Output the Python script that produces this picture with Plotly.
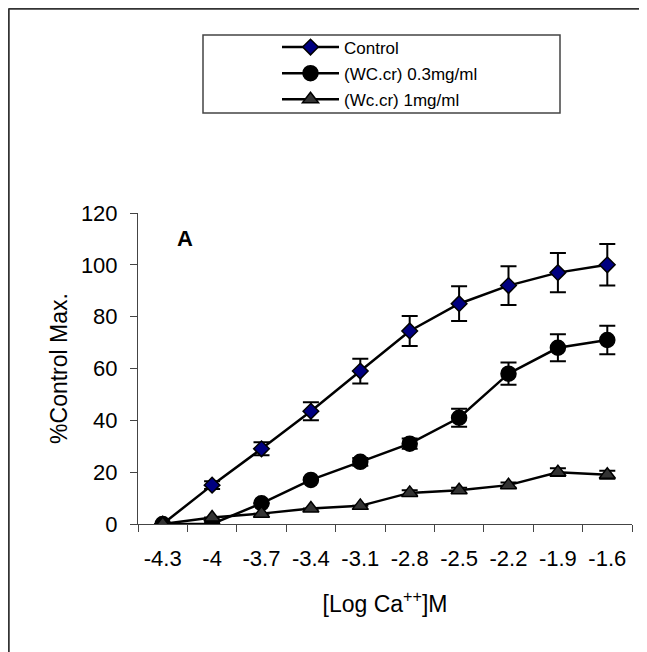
import plotly.graph_objects as go

categories = ["-4.3", "-4", "-3.7", "-3.4", "-3.1", "-2.8", "-2.5", "-2.2", "-1.9", "-1.6"]
control = [0, 15, 29, 43.5, 59, 74.5, 85, 92, 97, 100]
control_err = [0, 1.5, 2.5, 3.5, 4.8, 5.8, 6.7, 7.5, 7.6, 8]
wc03 = [0, 0, 8, 17, 24, 31, 41, 58, 68, 71]
wc03_err = [0, 0, 0, 0, 1.5, 2, 3.5, 4.3, 5.2, 5.5]
wc1 = [0, 2.5, 4, 6, 7, 12, 13, 15, 20, 19]
wc1_err = [0, 0, 0, 0, 0, 1, 1, 1, 1.5, 1.5]
names = ["Control", "(WC.cr) 0.3mg/ml", "(Wc.cr) 1mg/ml"]

FONT = "Liberation Sans, Arial, sans-serif"

fig = go.Figure()

def add(y, err, name, symbol, fill, size, group):
    fig.add_trace(go.Scatter(
        x=categories, y=y, name=name, mode="lines+markers",
        legendgroup=group,
        line=dict(color="black", width=2.5),
        marker=dict(symbol=symbol, color=fill, size=size,
                    line=dict(color="black", width=1.5)),
        error_y=dict(type="data", array=err, visible=True,
                     color="black", thickness=2, width=8),
    ))

add(control, control_err, names[0], "diamond", "#000080", 12, "g1")
add(wc03, wc03_err, names[1], "circle", "black", 15, "g2")
add(wc1, wc1_err, names[2], "triangle-up", "#333333", 14, "g3")

# page body has an 8px margin, so figure px = reference px - 8
OFF = 8
W, H = 639, 644
L, R, T, B = 130, 15, 205, 128
pw = W - L - R
ph = H - T - B

def px(x):
    return (x - OFF - L) / pw

def py(y):
    return (H - B - (y - OFF)) / ph

fig.update_layout(
    width=W, height=H,
    margin=dict(l=L, r=R, t=T, b=B, pad=0),
    paper_bgcolor="white", plot_bgcolor="white",
    font=dict(family=FONT, color="black", size=22),
    showlegend=True,
    legend=dict(
        x=px(277), y=py(29.5), xanchor="left", yanchor="top",
        bgcolor="rgba(0,0,0,0)", borderwidth=0,
        font=dict(size=17, family=FONT),
        traceorder="grouped", tracegroupgap=1, itemwidth=57,
    ),
    xaxis=dict(
        type="category", range=[-0.5, 9.5],
        showline=True, linecolor="#444", linewidth=1,
        ticks="outside", ticklen=7, tickcolor="#444", tickson="boundaries",
        showgrid=False, zeroline=False,
        tickfont=dict(size=22), ticklabelstandoff=15,
        title=dict(text="[Log Ca<sup>++</sup>]M", font=dict(size=23), standoff=25),
    ),
    yaxis=dict(
        range=[0, 120], tickvals=[0, 20, 40, 60, 80, 100, 120],
        showline=True, linecolor="#444", linewidth=1,
        ticks="outside", ticklen=7, tickcolor="#444",
        showgrid=False, zeroline=False,
        tickfont=dict(size=22), ticklabelstandoff=8,
        title=dict(text="%Control Max.", font=dict(size=23), standoff=6),
    ),
    shapes=[
        dict(type="rect", xref="paper", yref="paper",
             x0=px(203), x1=px(560), y0=py(113), y1=py(35),
             line=dict(color="#444", width=1.5)),
        dict(type="line", xref="paper", yref="paper",
             x0=px(8.5), x1=px(660), y0=py(8.5), y1=py(8.5),
             line=dict(color="#333", width=2.5)),
        dict(type="line", xref="paper", yref="paper",
             x0=px(8.5), x1=px(8.5), y0=py(8.5), y1=py(670),
             line=dict(color="#333", width=2.5)),
    ],
    annotations=[
        dict(text="<b>A</b>", x=px(185), y=py(238), xref="paper", yref="paper",
             xanchor="center", yanchor="middle",
             showarrow=False, font=dict(size=22, family=FONT)),
    ],
)

fig.write_html("out.html")
